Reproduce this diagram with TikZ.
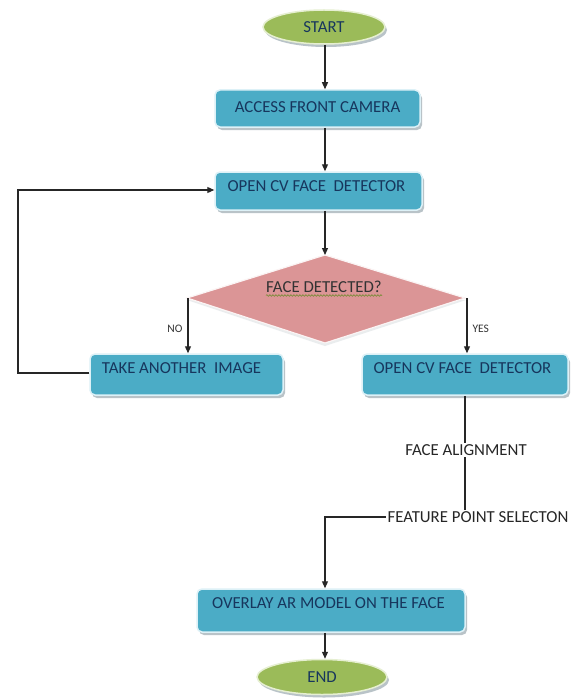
\documentclass[tikz,border=0pt]{standalone}
\usepackage{fontspec}
\setmainfont{Carlito}
\usetikzlibrary{arrows.meta,decorations.pathmorphing,shapes.geometric}

\definecolor{boxblue}{HTML}{4BACC6}
\definecolor{boxedge}{HTML}{DDF1F7}
\definecolor{boxshade}{HTML}{B9C3C8}
\definecolor{inkblue}{HTML}{17365D}
\definecolor{ovalgreen}{HTML}{9BBB59}
\definecolor{ovaledge}{HTML}{E6EFD2}
\definecolor{decpink}{HTML}{DB9596}
\definecolor{squiggle}{HTML}{6E8B2E}

\tikzset{
  procbox/.style={rectangle, rounded corners=5pt, fill=boxblue,
    draw=boxedge, line width=1.5pt, inner sep=0pt},
  boxtext/.style={font=\fontsize{16.8}{18}\selectfont, text=inkblue, inner sep=0pt, anchor=center},
  terminal/.style={ellipse, fill=ovalgreen, draw=ovaledge, line width=1.5pt,
    inner sep=0pt, font=\fontsize{16.8}{18}\selectfont, text=inkblue},
  flowtext/.style={font=\fontsize{16.8}{18}\selectfont, text=black!85, fill=white, inner sep=1.5pt},
  branch/.style={font=\fontsize{11.5}{13}\selectfont, text=black!80, inner sep=0pt},
  link/.style={draw=black!85, line width=1.2pt},
  arrow/.style={link, -{Triangle[length=7pt,width=6pt]}},
}

\begin{document}
\begin{tikzpicture}[x=1pt,y=-1pt]
  \useasboundingbox[fill=white] (0,0) rectangle (572,698);

  % shadows under the process boxes
  \foreach \a/\b/\c/\d in {215/90/420/127, 215/172/422/210, 90/354/283/395,
                           362/354/568/395, 197/589/465/632}{
    \fill[boxshade, rounded corners=5pt] (\a+2,\b+3) rectangle (\c+2,\d+3);
  }

  % start and end ovals
  \fill[boxshade] (326,30) ellipse [x radius=61pt, y radius=17pt];
  \node[terminal, minimum width=122pt, minimum height=34pt] (start) at (324,27) {START};
  \fill[boxshade] (324,680) ellipse [x radius=65pt, y radius=17.5pt];
  \node[terminal, minimum width=130pt, minimum height=35pt] (end) at (322,677) {END};

  % process boxes
  \node[procbox, minimum width=205pt, minimum height=37pt] (access) at (317.5,108.5) {};
  \node[boxtext] (accesst) at (317.5,107) {ACCESS FRONT CAMERA};

  \node[procbox, minimum width=207pt, minimum height=38pt] (detect) at (318.5,191) {};
  \node[boxtext] (detectt) at (316.5,186) {OPEN CV FACE~~DETECTOR};

  \node[procbox, minimum width=193pt, minimum height=41pt] (retake) at (186.5,374.5) {};
  \node[boxtext] (retaket) at (181.5,368) {TAKE ANOTHER~~IMAGE};

  \node[procbox, minimum width=206pt, minimum height=41pt] (detect2) at (465,374.5) {};
  \node[boxtext] (detect2t) at (462.5,368) {OPEN CV FACE~~DETECTOR};

  \node[procbox, minimum width=268pt, minimum height=43pt] (overlay) at (331,610.5) {};
  \node[boxtext] (overlayt) at (328.5,603) {OVERLAY AR MODEL ON THE FACE};

  % decision
  \fill[white!70!boxshade] (187,300) -- (325,346) -- (466,300) -- cycle;
  \draw[fill=decpink, draw=white!90!decpink, line width=1.2pt]
    (325,255) -- (465,298) -- (325,343) -- (187,298) -- cycle;
  \coordinate (dtop) at (325,255);
  \coordinate (dleft) at (188,298);
  \coordinate (dright) at (467,298);
  \node[boxtext, text=black!80] (decide) at (324,287) {FACE~DETECTED?};
  \draw[squiggle, line width=0.6pt,
        decorate, decoration={snake, amplitude=0.8pt, segment length=3pt}]
    ([yshift=-2.5pt]decide.south west) -- ([yshift=-2.5pt]decide.south east);

  % free-standing steps
  \node[flowtext] (align) at (466,450) {FACE ALIGNMENT};
  \node[flowtext] (select) at (478,517) {FEATURE POINT SELECTON};

  % corner points of the routed connectors
  \coordinate (loopb) at (18,373);
  \coordinate (loopt) at (18,190);
  \coordinate (drop) at (325,517);

  % connectors
  \draw[arrow] (start.south -| 325,0) -- (access.north -| 325,0);
  \draw[arrow] (access.south -| 325,0) -- (detect.north -| 325,0);
  \draw[arrow] (detect.south -| 325,0) -- (dtop);
  \draw[arrow] (dleft) -- (dleft |- retake.north)
    node[branch, pos=0.55, left=5pt] (nolab) {NO};
  \draw[arrow] (dright) -- (dright |- detect2.north)
    node[branch, pos=0.55, right=5pt] (yeslab) {YES};
  \draw[arrow] (retake.west |- loopb) -- (loopb) -- (loopt) -- (detect.west |- loopt);
  \draw[link] (detect2.south -| 465,0) -- (align.north -| 465,0);
  \draw[link] (align.south -| 465,0) -- (select.north -| 465,0);
  \draw[arrow] (select.west) -- (drop) -- (drop |- overlay.north);
  \draw[arrow] (overlay.south -| 325,0) -- (end.north -| 325,0);
\end{tikzpicture}
\end{document}
